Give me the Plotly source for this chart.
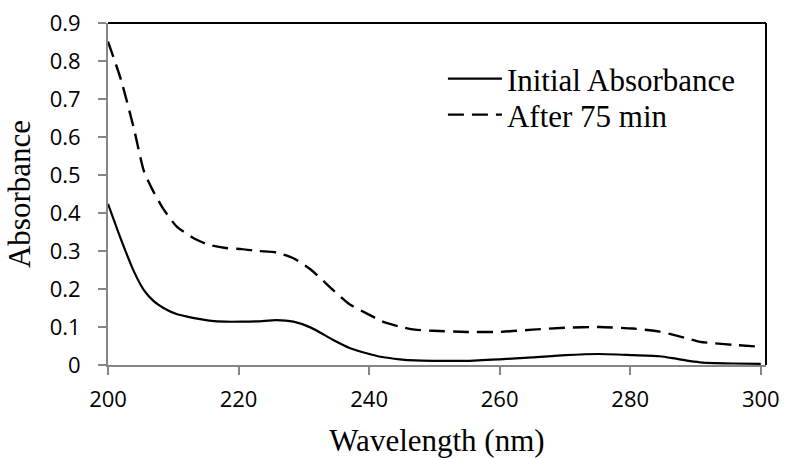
import plotly.graph_objects as go

# Wavelength (nm)
wavelength = [200, 202, 204, 205.5, 207, 208.5, 210.5, 213, 215.5, 218, 220.5, 223, 225.8, 228.4,
              231, 234.5, 237, 239.6, 242, 244.7, 247, 249.8, 255, 260, 265, 270, 275.3, 280.4,
              284.5, 286.5, 288.5, 290.7, 293, 295.8, 300]

# Absorbance readings
initial = [0.424, 0.33, 0.245, 0.197, 0.168, 0.150, 0.134, 0.124, 0.117, 0.114, 0.114, 0.115, 0.118, 0.114,
           0.099, 0.066, 0.045, 0.031, 0.021, 0.015, 0.012, 0.011, 0.011, 0.015, 0.020, 0.026, 0.029, 0.026,
           0.023, 0.018, 0.012, 0.007, 0.005, 0.004, 0.003]

after_75 = [0.851, 0.75, 0.62, 0.51, 0.455, 0.41, 0.365, 0.335, 0.316, 0.308, 0.305, 0.300, 0.296, 0.281,
            0.252, 0.197, 0.160, 0.136, 0.115, 0.101, 0.093, 0.090, 0.087, 0.087, 0.093, 0.098, 0.100, 0.096,
            0.088, 0.080, 0.071, 0.061, 0.057, 0.053, 0.048]

serif = dict(family="Liberation Serif", size=31, color="black")
tick_font = dict(family="Open Sans", size=22, color="black")

fig = go.Figure()
fig.add_trace(go.Scatter(x=wavelength, y=initial, mode="lines", name="Initial Absorbance",
                         legend="legend",
                         line=dict(color="black", width=2.2, shape="spline", smoothing=0.6)))
fig.add_trace(go.Scatter(x=wavelength, y=after_75, mode="lines", name="After 75 min",
                         legend="legend2",
                         line=dict(color="black", width=2.4, dash="16px,8px", shape="spline", smoothing=0.6)))

axis_grey = "#868686"
fig.update_layout(
    width=785, height=458,
    margin=dict(l=108, r=19, t=23, b=93, autoexpand=False),
    plot_bgcolor="white", paper_bgcolor="white",
    showlegend=True,
    legend=dict(x=0.509, y=0.915, xanchor="left", yanchor="top", bgcolor="rgba(0,0,0,0)",
                font=serif, itemwidth=54),
    legend2=dict(x=0.509, y=0.81, xanchor="left", yanchor="top", bgcolor="rgba(0,0,0,0)",
                 font=serif, itemwidth=54),
    xaxis=dict(range=[200, 300.8], tickvals=[200, 220, 240, 260, 280, 300], automargin=False,
               showgrid=False, zeroline=False, showline=True, linecolor=axis_grey, linewidth=2,
               ticks="outside", ticklen=8, tickwidth=2, tickcolor=axis_grey,
               ticklabelstandoff=6, tickfont=tick_font,
               title=dict(text="Wavelength (nm)", standoff=20, font=serif)),
    yaxis=dict(range=[0, 0.9], dtick=0.1, tickformat="~g", automargin=False,
               showgrid=False, zeroline=False, showline=True, linecolor=axis_grey, linewidth=2,
               ticks="outside", ticklen=8, tickwidth=2, tickcolor=axis_grey,
               ticklabelstandoff=13, tickfont=tick_font,
               title=dict(text="Absorbance", standoff=10, font=serif)),
    shapes=[
        dict(type="line", xref="x domain", yref="y domain", x0=0, x1=1, y0=1, y1=1,
             line=dict(color="black", width=2)),
        dict(type="line", xref="x domain", yref="y domain", x0=1, x1=1, y0=0, y1=1,
             line=dict(color="black", width=2)),
    ],
)

fig.write_html("out.html", config={"displayModeBar": False},
               post_script="document.body.style.margin='0';")
